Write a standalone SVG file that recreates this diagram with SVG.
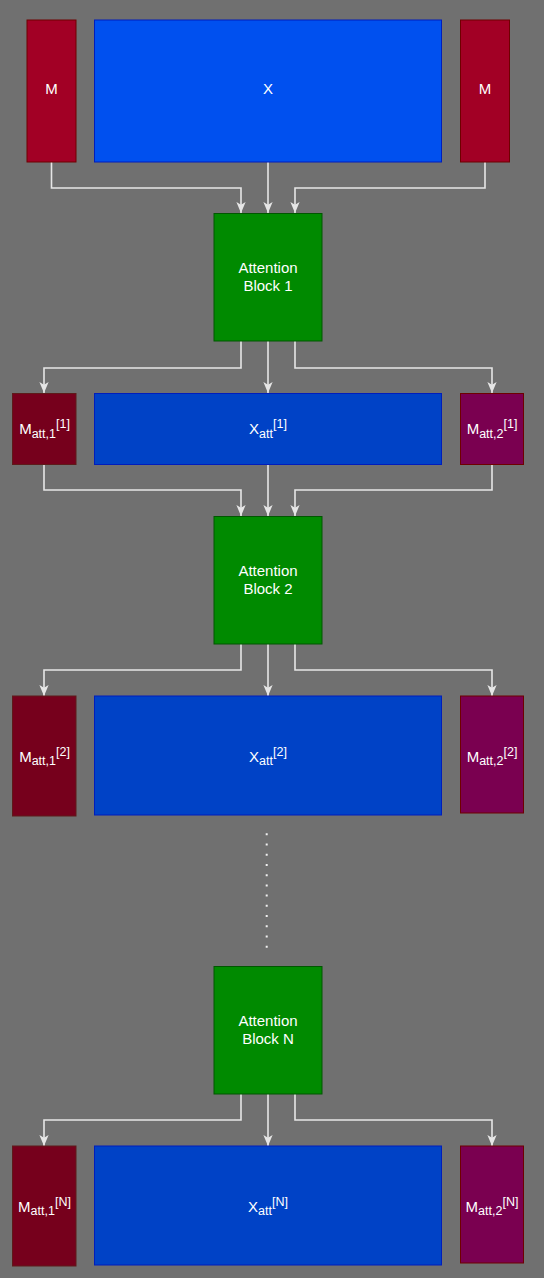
<svg xmlns="http://www.w3.org/2000/svg" width="544" height="1278" viewBox="0 0 544 1278">
<defs>
<style>
text{font-family:"Liberation Sans",Arial,sans-serif;font-size:15px;fill:#ffffff;text-anchor:middle}
.s{font-size:12.5px}
.m{fill:#a20025;stroke:#6f0000;stroke-width:1}
.x{fill:#0050ef;stroke:#001dbc;stroke-width:1}
.xa{fill:#0042c6;stroke:#001dbc;stroke-width:1}
.m1{fill:#76001c;stroke:#5e1a1a;stroke-width:1}
.m2{fill:#7a0050;stroke:#6f0000;stroke-width:1}
.g{fill:#008a00;stroke:#005700;stroke-width:1}
.c path{fill:none;stroke:#e6e6e6;stroke-width:1.6;marker-end:url(#arr)}
</style>
<marker id="arr" viewBox="0 0 10 10" refX="10" refY="5" markerWidth="11" markerHeight="11" orient="auto" markerUnits="userSpaceOnUse">
<path d="M0,0.8 L10,5 L0,9.2 L2.5,5 Z" fill="#e6e6e6"/>
</marker>
</defs>
<rect width="544" height="1278" fill="#707070"/>

<g id="connectors" class="c">
<path d="M51.5,162 V188 H241 V213"/>
<path d="M268,162 V213"/>
<path d="M485,162 V188 H295 V213"/>
<path d="M241,341 V368 H44 V393"/>
<path d="M268,341 V393"/>
<path d="M295,341 V368 H492 V393"/>
<path d="M44,464 V490 H241 V516"/>
<path d="M268,464 V516"/>
<path d="M492,464 V490 H295 V516"/>
<path d="M241,644 V670 H44 V696"/>
<path d="M268,644 V696"/>
<path d="M295,644 V670 H492 V696"/>
<path d="M241,1094 V1120 H44 V1146"/>
<path d="M268,1094 V1146"/>
<path d="M295,1094 V1120 H492 V1146"/>
</g>

<g id="M_left"><rect class="m" x="27" y="20" width="49" height="142"/><text x="51.5" y="94">M</text></g>
<g id="X"><rect class="x" x="94.5" y="20" width="347" height="142"/><text x="268" y="94">X</text></g>
<g id="M_right"><rect class="m" x="460.5" y="20" width="49" height="142"/><text x="485" y="94">M</text></g>

<g id="block1"><rect class="g" x="214" y="213.5" width="108" height="127.5"/><text x="268" y="272.7">Attention</text><text x="268" y="291.3">Block 1</text></g>

<g id="Matt1_1"><rect class="m1" x="12.5" y="393.5" width="63.5" height="71"/><text x="44.5" y="434.3">M<tspan class="s" dy="3.5">att,1</tspan><tspan class="s" dy="-9.5">[1]</tspan></text></g>
<g id="Xatt_1"><rect class="xa" x="94.5" y="393.5" width="347" height="71"/><text x="268" y="434.3">X<tspan class="s" dy="3.5">att</tspan><tspan class="s" dy="-9.5">[1]</tspan></text></g>
<g id="Matt2_1"><rect class="m2" x="460.5" y="393.5" width="63" height="71"/><text x="492" y="434.3">M<tspan class="s" dy="3.5">att,2</tspan><tspan class="s" dy="-9.5">[1]</tspan></text></g>

<g id="block2"><rect class="g" x="214" y="516.5" width="108" height="127.5"/><text x="268" y="575.7">Attention</text><text x="268" y="594.3">Block 2</text></g>

<g id="Matt1_2"><rect class="m1" x="12.5" y="696" width="63.5" height="120"/><text x="44.5" y="761.5">M<tspan class="s" dy="3.5">att,1</tspan><tspan class="s" dy="-9.5">[2]</tspan></text></g>
<g id="Xatt_2"><rect class="xa" x="94.5" y="696" width="347" height="119"/><text x="268" y="761.5">X<tspan class="s" dy="3.5">att</tspan><tspan class="s" dy="-9.5">[2]</tspan></text></g>
<g id="Matt2_2"><rect class="m2" x="460.5" y="696" width="63" height="117"/><text x="492" y="761.5">M<tspan class="s" dy="3.5">att,2</tspan><tspan class="s" dy="-9.5">[2]</tspan></text></g>

<g id="dots"><line x1="266.7" y1="833.3" x2="266.7" y2="948" stroke="#f0f0f0" stroke-width="2" stroke-dasharray="2 8.22"/></g>

<g id="blockN"><rect class="g" x="214" y="966.5" width="108" height="127.5"/><text x="268" y="1025.7">Attention</text><text x="268" y="1044.3">Block N</text></g>

<g id="Matt1_N"><rect class="m1" x="12.5" y="1146" width="63.5" height="120"/><text x="44.5" y="1211.5">M<tspan class="s" dy="3.5">att,1</tspan><tspan class="s" dy="-9.5">[N]</tspan></text></g>
<g id="Xatt_N"><rect class="xa" x="94.5" y="1146" width="347" height="119"/><text x="268" y="1211.5">X<tspan class="s" dy="3.5">att</tspan><tspan class="s" dy="-9.5">[N]</tspan></text></g>
<g id="Matt2_N"><rect class="m2" x="460.5" y="1146" width="63" height="117"/><text x="492" y="1211.5">M<tspan class="s" dy="3.5">att,2</tspan><tspan class="s" dy="-9.5">[N]</tspan></text></g>
</svg>
